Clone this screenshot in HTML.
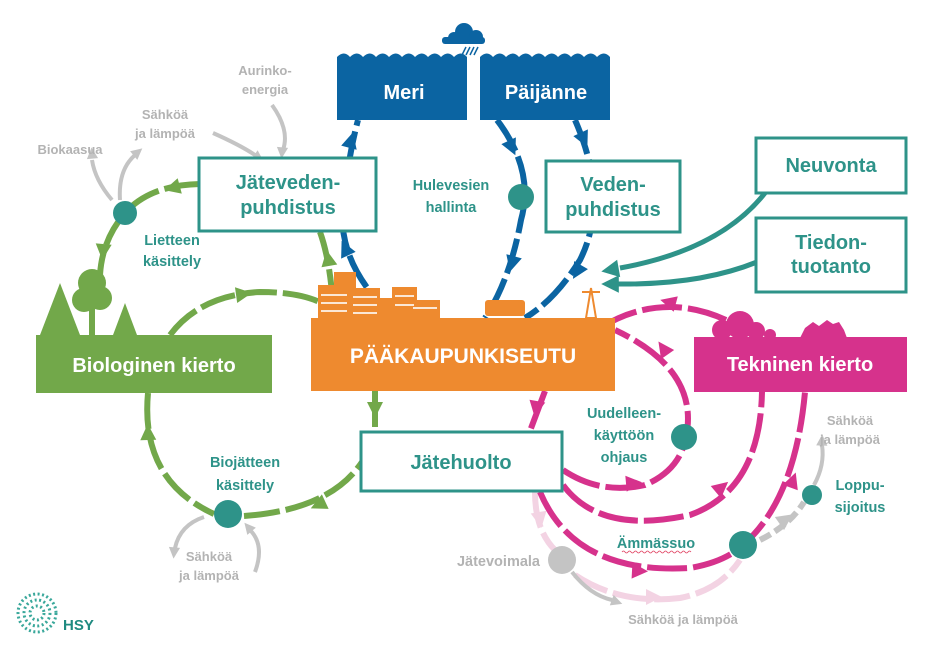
<!DOCTYPE html>
<html><head><meta charset="utf-8"><style>
html,body{margin:0;padding:0;background:#fff;}
svg{display:block;font-family:"Liberation Sans",sans-serif;font-weight:bold;}
</style></head><body>
<svg width="945" height="667" viewBox="0 0 945 667" xmlns="http://www.w3.org/2000/svg">
<defs>
<polygon id="ah" points="-8,-8 8,0 -8,8"/>
</defs>
<!-- GREEN arcs -->
<g fill="none" stroke="#72a84a" stroke-width="6" stroke-dasharray="36 6">
<path d="M200,184 Q150,185 125,213 Q102,240 100,275"/>
<path d="M170,335 Q200,295 260,292 Q310,292 333,310"/>
<path d="M333,305 Q330,260 320,232"/>
<path d="M148,393 Q140,480 214,514"/>
<path d="M244,516 Q330,510 362,462"/>
<path d="M375,391 L375,431"/>
</g>
<g fill="#72a84a">
<use href="#ah" transform="translate(172,188) rotate(165)"/>
<use href="#ah" transform="translate(103,252) rotate(95)"/>
<use href="#ah" transform="translate(244,294) rotate(-8)"/>
<use href="#ah" transform="translate(328,258) rotate(-100)"/>
<use href="#ah" transform="translate(148,432) rotate(-92)"/>
<use href="#ah" transform="translate(318,505) rotate(155)"/>
<use href="#ah" transform="translate(375,410) rotate(90)"/>
</g>
<!-- BLUE arcs -->
<g fill="none" stroke="#0b64a2" stroke-width="6" stroke-dasharray="36 6">
<path d="M395,318 Q330,260 345,190 Q350,150 358,120"/>
<path d="M497,120 Q535,170 521,220 Q510,280 485,318"/>
<path d="M575,120 Q610,200 580,260 Q555,300 525,318"/>
</g>
<g fill="#0b64a2">
<use href="#ah" transform="translate(351,140) rotate(-75)"/>
<use href="#ah" transform="translate(345,248) rotate(-115)"/>
<use href="#ah" transform="translate(512,148) rotate(65)"/>
<use href="#ah" transform="translate(512,264) rotate(105)"/>
<use href="#ah" transform="translate(584,140) rotate(65)"/>
<use href="#ah" transform="translate(577,272) rotate(120)"/>
</g>
<!-- TEAL arrows -->
<g fill="none" stroke="#2e9389" stroke-width="5">
<path d="M765,193 Q720,250 620,268"/>
<path d="M757,262 Q700,285 618,284"/>
</g>
<g fill="#2e9389">
<use href="#ah" transform="translate(610,270) rotate(170) scale(1.1)"/>
<use href="#ah" transform="translate(610,284) rotate(180) scale(1.1)"/>
</g>
<!-- PINK light -->
<g fill="none" stroke="#f3d3e3" stroke-width="6" stroke-dasharray="36 6">
<path d="M535,492 Q535,530 555,550"/>
<path d="M575,575 Q620,605 680,598 Q720,590 740,560"/>
</g>
<g fill="#f3d3e3">
<use href="#ah" transform="translate(540,520) rotate(80)"/>
<use href="#ah" transform="translate(654,597) rotate(0)"/>
</g>
<!-- MAGENTA arcs -->
<g fill="none" stroke="#d6328c" stroke-width="6" stroke-dasharray="40 6">
<path d="M600,328 Q670,285 745,330"/>
<path d="M563,470 Q600,495 645,485 Q680,470 686,437 Q700,370 615,330"/>
<path d="M563,485 Q600,535 690,515 Q760,490 762,392"/>
<path d="M540,492 Q575,575 690,568 Q725,562 743,545 Q795,500 805,392"/>
<path d="M545,391 L530,431"/>
</g>
<g fill="#d6328c">
<use href="#ah" transform="translate(668,302) rotate(195)"/>
<use href="#ah" transform="translate(634,483) rotate(-5)"/>
<use href="#ah" transform="translate(663,348) rotate(-125)"/>
<use href="#ah" transform="translate(722,487) rotate(-40)"/>
<use href="#ah" transform="translate(640,571) rotate(3)"/>
<use href="#ah" transform="translate(793,480) rotate(-70)"/>
<use href="#ah" transform="translate(536,409) rotate(100)"/>
</g>
<!-- GREY arrows -->
<g fill="none" stroke="#c4c4c4" stroke-width="4">
<path d="M112,200 Q95,180 92,160"/>
<path d="M120,200 Q118,170 135,155"/>
<path d="M213,133 Q240,145 255,155"/>
<path d="M272,105 Q290,130 283,150"/>
<path d="M204,517 Q180,525 175,548"/>
<path d="M255,572 Q265,545 250,530"/>
<path d="M572,572 Q590,595 612,600"/>
<path d="M814,485 Q825,465 822,445"/>
</g>
<path d="M760,540 Q790,525 804,502" fill="none" stroke="#c4c4c4" stroke-width="6" stroke-dasharray="12 5"/>
<g fill="#c4c4c4">
<use href="#ah" transform="translate(92,153) rotate(-95) scale(.7)"/>
<use href="#ah" transform="translate(138,152) rotate(-40) scale(.7)"/>
<use href="#ah" transform="translate(259,158) rotate(35) scale(.7)"/>
<use href="#ah" transform="translate(282,153) rotate(95) scale(.7)"/>
<use href="#ah" transform="translate(174,553) rotate(95) scale(.7)"/>
<use href="#ah" transform="translate(248,527) rotate(-130) scale(.7)"/>
<use href="#ah" transform="translate(617,602) rotate(20) scale(.7)"/>
<use href="#ah" transform="translate(822,440) rotate(-88) scale(.7)"/>
<use href="#ah" transform="translate(786,519) rotate(-35)"/>
</g>
<!-- circles -->
<g fill="#2e9389">
<circle cx="125" cy="213" r="12"/>
<circle cx="521" cy="197" r="13"/>
<circle cx="684" cy="437" r="13"/>
<circle cx="228" cy="514" r="14"/>
<circle cx="743" cy="545" r="14"/>
<circle cx="812" cy="495" r="10"/>
</g>
<circle cx="562" cy="560" r="14" fill="#c4c4c4"/>
<!-- water boxes -->
<g fill="#0b64a2">
<path d="M337,120 V57 q7,-7 13,0 q7,-7 13,0 q7,-7 13,0 q7,-7 13,0 q7,-7 13,0 q7,-7 13,0 q7,-7 13,0 q7,-7 13,0 q7,-7 13,0 q7,-7 13,0 V120Z"/>
<path d="M480,120 V57 q7,-7 13,0 q7,-7 13,0 q7,-7 13,0 q7,-7 13,0 q7,-7 13,0 q7,-7 13,0 q7,-7 13,0 q7,-7 13,0 q7,-7 13,0 q7,-7 13,0 V120Z"/>
<circle cx="464" cy="32" r="9"/><circle cx="454" cy="38" r="6"/><circle cx="476" cy="37" r="7"/>
<rect x="442" y="37" width="43" height="7" rx="3"/>
<path d="M466,47 l-4,8 M470,47 l-4,8 M474,47 l-4,8 M478,47 l-4,8" stroke="#0b64a2" stroke-width="1.5"/>
</g>
<g fill="#fff" font-size="20" text-anchor="middle">
<text x="404" y="99">Meri</text>
<text x="546" y="99">Päijänne</text>
</g>
<!-- teal boxes -->
<g fill="#fff" stroke="#2e9389" stroke-width="3">
<rect x="199" y="158" width="177" height="73"/>
<rect x="546" y="161" width="134" height="71"/>
<rect x="756" y="138" width="150" height="55"/>
<rect x="756" y="218" width="150" height="74"/>
<rect x="361" y="432" width="201" height="59"/>
</g>
<g fill="#2e9389" font-size="20" text-anchor="middle">
<text x="288" y="189">Jäteveden-</text>
<text x="288" y="214">puhdistus</text>
<text x="613" y="191">Veden-</text>
<text x="613" y="216">puhdistus</text>
<text x="831" y="172">Neuvonta</text>
<text x="831" y="249">Tiedon-</text>
<text x="831" y="273">tuotanto</text>
<text x="461" y="469">Jätehuolto</text>
</g>
<!-- labels -->
<g fill="#2e9389" font-size="14.5" text-anchor="middle">
<text x="172" y="245">Lietteen</text>
<text x="172" y="266">käsittely</text>
<text x="451" y="190">Hulevesien</text>
<text x="451" y="212">hallinta</text>
<text x="624" y="418">Uudelleen-</text>
<text x="624" y="440">käyttöön</text>
<text x="624" y="462">ohjaus</text>
<text x="245" y="467">Biojätteen</text>
<text x="245" y="490">käsittely</text>
<text x="656" y="548">Ämmässuo</text>
<text x="860" y="490">Loppu-</text>
<text x="860" y="512">sijoitus</text>
</g>
<path d="M622,552 q1.5,-2 3,0 t3,0 t3,0 t3,0 t3,0 t3,0 t3,0 t3,0 t3,0 t3,0 t3,0 t3,0 t3,0 t3,0 t3,0 t3,0 t3,0 t3,0 t3,0 t3,0 t3,0 t3,0 t3,0" fill="none" stroke="#e04060" stroke-width="0.8"/>
<g fill="#b3b3b3" font-size="13" text-anchor="middle">
<text x="265" y="75">Aurinko-</text>
<text x="265" y="94">energia</text>
<text x="165" y="119">Sähköä</text>
<text x="165" y="138">ja lämpöä</text>
<text x="70" y="154">Biokaasua</text>
<text x="209" y="561">Sähköä</text>
<text x="209" y="580">ja lämpöä</text>
<text x="850" y="425">Sähköä</text>
<text x="850" y="444">ja lämpöä</text>
<text x="683" y="624">Sähköä ja lämpöä</text>
</g>
<text x="540" y="566" fill="#b3b3b3" font-size="14.5" text-anchor="end">Jätevoimala</text>
<!-- orange box + city -->
<g fill="#ee8a2f">
<rect x="318" y="285" width="32" height="33"/>
<rect x="334" y="272" width="22" height="46"/>
<rect x="350" y="288" width="30" height="30"/>
<rect x="379" y="298" width="22" height="20"/>
<rect x="392" y="287" width="25" height="31"/>
<rect x="410" y="300" width="30" height="18"/>
<rect x="485" y="300" width="40" height="16" rx="3"/>
<path d="M586,318 l5,-30 l5,30 z M582,292 h18" stroke="#ee8a2f" stroke-width="2" fill="none"/>
<rect x="311" y="318" width="304" height="73"/>
</g>
<g stroke="#fff" stroke-width="2" opacity=".8">
<path d="M321,295 h26 M321,303 h26 M321,311 h26 M353,297 h24 M353,305 h24 M353,313 h24 M395,296 h19 M395,305 h19 M413,308 h24"/>
</g>
<text x="463" y="363" fill="#fff" font-size="21" text-anchor="middle">PÄÄKAUPUNKISEUTU</text>
<!-- biological box + trees -->
<g fill="#72a84a">
<polygon points="60,283 40,335 80,335"/>
<circle cx="92" cy="283" r="14"/><circle cx="84" cy="300" r="12"/><circle cx="100" cy="298" r="12"/>
<rect x="89" y="300" width="6" height="35"/>
<polygon points="125,303 113,335 137,335"/>
<rect x="36" y="335" width="236" height="58"/>
</g>
<text x="154" y="372" fill="#fff" font-size="20" text-anchor="middle">Biologinen kierto</text>
<!-- technical box -->
<g fill="#d6328c">
<circle cx="740" cy="325" r="14"/><circle cx="722" cy="330" r="10"/><circle cx="756" cy="331" r="9"/><circle cx="770" cy="335" r="6"/>
<path d="M800,338 l5,-10 l8,-6 l6,4 l8,-6 l6,4 l6,-2 l5,8 l3,8z"/>
<rect x="694" y="337" width="213" height="55"/>
</g>
<text x="800" y="371" fill="#fff" font-size="20" text-anchor="middle">Tekninen kierto</text>
<!-- HSY logo -->
<g fill="none" stroke="#3aa89b" stroke-width="3" stroke-dasharray="2 2.5">
<circle cx="37" cy="613" r="19"/><circle cx="37" cy="613" r="13"/><circle cx="37" cy="613" r="7"/>
</g>
<text x="63" y="630" fill="#1f8a80" font-size="15">HSY</text>
</svg>
</body></html>
